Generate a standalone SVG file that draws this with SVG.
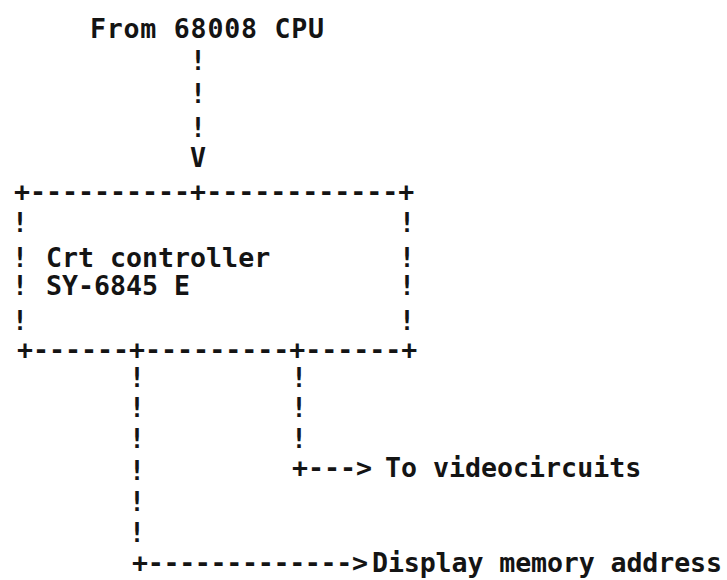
<svg xmlns="http://www.w3.org/2000/svg" width="727" height="580" viewBox="0 0 727 580">
<style>
text { font-family: "DejaVu Sans Mono", "Liberation Mono", monospace; font-weight: bold; font-size: 26.6px; fill: #141414; }
.c { text-anchor: middle; }
</style>
<rect width="727" height="580" fill="#ffffff"/>
<g id="source">
<text x="90" y="38" textLength="234">From 68008 CPU</text>
</g>
<g id="crt-controller">
<text x="14" y="201">+----------+------------+</text>
<text class="c" x="20" y="232">!</text><text class="c" x="407" y="232">!</text>
<text class="c" x="20" y="267">!</text><text class="c" x="407" y="267">!</text>
<text class="c" x="20" y="295">!</text><text class="c" x="407" y="295">!</text>
<text class="c" x="20" y="330">!</text><text class="c" x="407" y="330">!</text>
<text x="46" y="267">Crt controller</text>
<text x="46" y="295">SY-6845 E</text>
<text x="17" y="359">+------+---------+------+</text>
</g>
<g id="videocircuits">
<text x="385" y="477">To videocircuits</text>
</g>
<g id="display-memory">
<text x="372" y="572" textLength="350">Display memory address</text>
</g>
<g id="connectors">
<text class="c" x="198" y="70">!</text>
<text class="c" x="198" y="103">!</text>
<text class="c" x="198" y="137">!</text>
<text class="c" x="198" y="167">V</text>
<text class="c" x="137" y="387">!</text>
<text class="c" x="137" y="417">!</text>
<text class="c" x="137" y="448">!</text>
<text class="c" x="137" y="480">!</text>
<text class="c" x="137" y="511">!</text>
<text class="c" x="137" y="542">!</text>
<text class="c" x="299" y="387">!</text>
<text class="c" x="299" y="417">!</text>
<text class="c" x="299" y="448">!</text>
<text x="292" y="477">+---&gt;</text>
<text x="132" y="572" textLength="236">+-------------&gt;</text>
</g>
</svg>
